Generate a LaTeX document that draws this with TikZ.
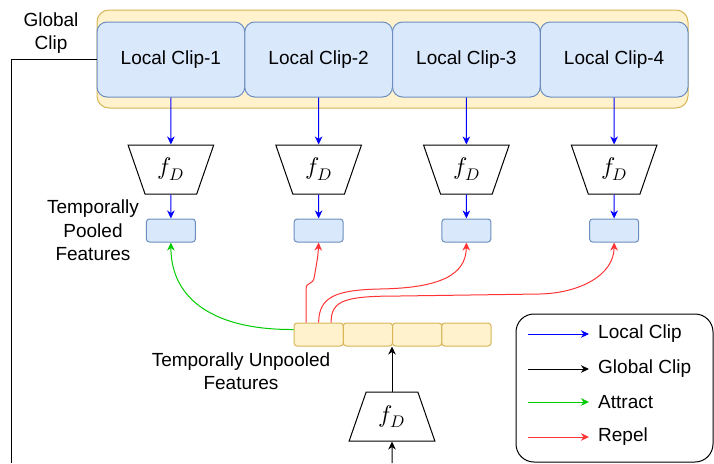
\documentclass[tikz,border=0pt]{standalone}
\usepackage{fontspec}
\usepackage{unicode-math}
\setmainfont{Liberation Sans}
\setmathfont{Latin Modern Math}
\usetikzlibrary{arrows.meta,shapes.geometric}
\definecolor{yfill}{HTML}{FFF2CC}
\definecolor{ydraw}{HTML}{D6B656}
\definecolor{bfill}{HTML}{DAE8FC}
\definecolor{bdraw}{HTML}{6C8EBF}
\definecolor{lblue}{HTML}{0000FF}
\definecolor{lgreen}{HTML}{00CC00}
\definecolor{lred}{HTML}{FF3333}
\tikzset{
  tip/.style={-{Stealth[length=8pt,width=7.5pt,inset=2.5pt]}},
  gbox/.style={draw=ydraw,fill=yfill,line width=1pt,rounded corners=12pt,inner sep=0pt},
  lbox/.style={draw=bdraw,fill=bfill,line width=1pt,rounded corners=10pt,minimum width=147.75pt,minimum height=75pt,inner sep=0pt,font=\fontsize{19}{23}\selectfont},
  pbox/.style={draw=bdraw,fill=bfill,line width=1pt,rounded corners=3pt,minimum width=49pt,minimum height=23pt,inner sep=0pt},
  ubox/.style={draw=ydraw,fill=yfill,line width=1pt,rounded corners=3pt,minimum width=49.25pt,minimum height=23pt,inner sep=0pt},
  enc/.style={draw=black,line width=1pt,trapezium,trapezium angle=69.3,trapezium stretches=true,minimum width=86pt,minimum height=49pt,inner sep=0pt,font=\fontsize{24}{28}\selectfont},
  lab/.style={font=\fontsize{19}{23.5}\selectfont,align=center,inner sep=0pt},
  bl/.style={tip,lblue,line width=1pt},
  bk/.style={tip,black,line width=1pt},
  gr/.style={tip,lgreen,line width=1pt},
  rd/.style={tip,lred,line width=1pt},
}
\begin{document}
\begin{tikzpicture}[x=1pt,y=-1pt]
\useasboundingbox (0,0) rectangle (714,463);
% global clip container
\node[gbox,minimum width=591pt,minimum height=98pt] (global) at (392.5,59) {};
\foreach \i in {1,2,3,4}{
  \pgfmathsetmacro{\cx}{97+147.75*(\i-0.5)}
  \node[lbox] (c\i) at (\cx,59.5) {Local Clip-\i};
  \node[enc,shape border rotate=180] (f\i) at (\cx,169.5) {$f_D$};
  \node[pbox] (p\i) at (\cx,230.5) {};
  \draw[bl] (c\i.south) -- (f\i.north);
  \draw[bl] (f\i.south) -- (p\i.north);
}
\node[lab] (glab) at (51,33) {Global\\Clip};
\node[lab] (plab) at (93,230.5) {Temporally\\Pooled\\Features};
% unpooled strip
\foreach \i in {1,2,3,4}{
  \pgfmathsetmacro{\ux}{294+49.25*(\i-0.5)}
  \node[ubox] (u\i) at (\ux,334.5) {};
}
\node[lab] (ulab) at (241,371) {Temporally Unpooled\\Features};
% bottom encoder
\node[enc] (f5) at (392,416.5) {$f_D$};
\coordinate (gin) at (392,463);
\coordinate (gcorner) at (11,463);
\draw[black,line width=1pt] (global.west) -| (gcorner);
\draw[bk] (gin) -- (f5.south);
\draw[bk] (f5.north) -- (f5.north |- u2.south);
% attract / repel
\draw[gr] ([yshift=5pt]u1.west) .. controls (215,330) and (171,300) .. (p1.south);
\draw[rd] ([xshift=-12.5pt]u1.north) -- (306,290) .. controls (306,280) and (313,287) .. (314.5,276) .. controls (316,266) and (318,258) .. (p2.south);
\draw[rd] (u1.north) .. controls (319,297) and (335,290) .. (380,289) .. controls (440,288) and (466,275) .. (p3.south);
\draw[rd] ([xshift=12.5pt]u1.north) .. controls (331,300) and (345,296) .. (400,296) -- (540,294) .. controls (580,293) and (614,275) .. (p4.south);
% legend
\node[draw=black,line width=1pt,rounded corners=18pt,minimum width=197pt,minimum height=148pt,inner sep=0pt] (legend) at (614.5,388) {};
\coordinate (a1) at (528,334); \coordinate (b1) at (589,334);
\coordinate (a2) at (528,369); \coordinate (b2) at (589,369);
\coordinate (a3) at (528,402); \coordinate (b3) at (589,402);
\coordinate (a4) at (528,437); \coordinate (b4) at (589,437);
\draw[bl] (a1) -- (b1);
\draw[bk] (a2) -- (b2);
\draw[gr] (a3) -- (b3);
\draw[rd] (a4) -- (b4);
\node[lab,anchor=west] (t1) at (598,334) {Local Clip};
\node[lab,anchor=west] (t2) at (598,369) {Global Clip};
\node[lab,anchor=west] (t3) at (598,402) {Attract};
\node[lab,anchor=west] (t4) at (598,437) {Repel};
\end{tikzpicture}
\end{document}
